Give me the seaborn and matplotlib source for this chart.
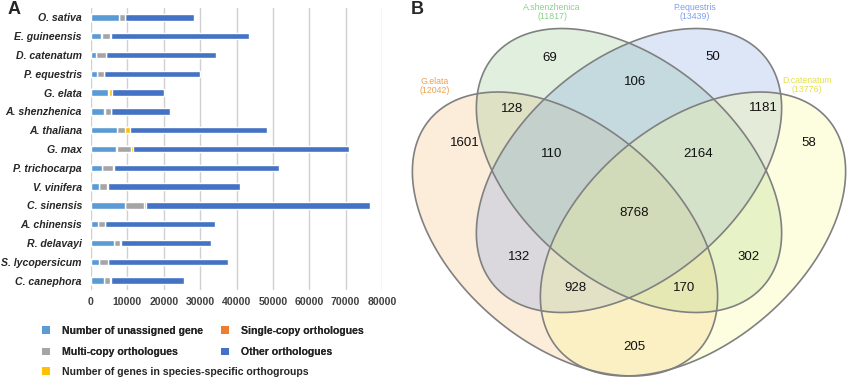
import numpy as np
import pandas as pd
import matplotlib
matplotlib.use("Agg")
import matplotlib.pyplot as plt
from matplotlib.patches import Polygon, Patch
import seaborn as sns

# ---- panel A data (gene counts per species) ----
species = ["O. sativa", "E. guineensis", "D. catenatum", "P. equestris", "G. elata",
           "A. shenzhenica", "A. thaliana", "G. max", "P. trichocarpa", "V. vinifera",
           "C. sinensis", "A. chinensis", "R. delavayi", "S. lycopersicum", "C. canephora"]
unassigned = [7600, 2850, 1300, 1650, 4600, 3700, 7070, 7000, 2940, 2200, 9370, 2000, 6240, 2200, 3670]
single_copy = [40, 40, 40, 40, 40, 40, 40, 40, 40, 40, 40, 40, 40, 40, 40]
multi_copy = [1600, 2290, 2700, 1850, 400, 1700, 2110, 4000, 3120, 2200, 5230, 1860, 1760, 2300, 1560]
species_specific = [150, 360, 100, 100, 700, 150, 1380, 600, 100, 200, 400, 80, 100, 150, 100]
other = [19010, 37860, 30110, 26210, 14460, 16010, 37700, 59360, 45600, 36410, 61560, 30090, 24760, 33050, 20070]
x_ticks = [0, 10000, 20000, 30000, 40000, 50000, 60000, 70000, 80000]

# ---- panel B data (Venn counts) ----
set_names = ["G.elata", "A.shenzhenica", "P.equestris", "D.catenatum"]
set_sizes = [12042, 11817, 13439, 13776]
venn_counts = {"A": 1601, "B": 69, "C": 50, "D": 58,
               "AB": 128, "BC": 106, "CD": 1181, "AC": 132, "BD": 302, "AD": 205,
               "ABC": 110, "BCD": 2164, "ACD": 928, "ABD": 170, "ABCD": 8768}

sns.set_style("white")
plt.rcParams['font.family'] = ['Liberation Sans', 'DejaVu Sans']

fig = plt.figure(figsize=(8.5, 3.83), dpi=100)

# ---------------- Panel A ----------------
ax = fig.add_axes([91 / 850, 1 - 290 / 383, 291 / 850, 282 / 383])
df = pd.DataFrame({"species": species, "unassigned": unassigned, "single": single_copy,
                   "multi": multi_copy, "specific": species_specific, "other": other})
seg_cols = ["unassigned", "single", "multi", "specific", "other"]
seg_colors = {"unassigned": "#5B9BD5", "single": "#ED7D31", "multi": "#A5A5A5",
              "specific": "#FFC000", "other": "#4472C4"}
cum = df[seg_cols].cumsum(axis=1)

# draw longest cumulative first so shorter segments sit on top
for col in reversed(seg_cols):
    sns.barplot(x=cum[col], y=df["species"], orient="h", color=seg_colors[col],
                saturation=1, width=0.34, ax=ax, zorder=3)

ax.set_xlim(0, 80000)
ax.set_xticks(x_ticks)
ax.set_xticklabels([str(t) for t in x_ticks], fontsize=7.6, fontweight="bold", color="#404040")
ax.set_yticklabels(species, fontsize=7.6, fontweight="bold", fontstyle="italic")
ax.set_xlabel("")
ax.set_ylabel("")
ax.xaxis.grid(True, color="#D0D0D0", linewidth=1, zorder=0)
ax.yaxis.grid(False)
for s in ax.spines.values():
    s.set_visible(False)
ax.tick_params(axis="y", length=0, pad=6.5)
ax.tick_params(axis="x", length=0, pad=5)

legend_labels = {"unassigned": "Number of unassigned gene", "single": "Single-copy orthologues",
                 "multi": "Multi-copy orthologues", "other": "Other orthologues",
                 "specific": "Number of genes in species-specific orthogroups"}


def make_handles(keys):
    return [Patch(facecolor=seg_colors[k], edgecolor="none", label=legend_labels[k]) for k in keys]


leg_kw = dict(frameon=False, prop={"weight": "bold", "size": 7.6}, handlelength=0.75,
              handleheight=0.75, handletextpad=1.1, labelspacing=1.05, borderaxespad=0,
              borderpad=0, labelcolor="#262626")
leg1 = fig.legend(handles=make_handles(["unassigned", "multi", "single", "other"]), ncol=2,
                  loc="upper left", bbox_to_anchor=(42 / 850, 1 - 326 / 383),
                  columnspacing=1.75, **leg_kw)
fig.add_artist(leg1)
fig.legend(handles=make_handles(["specific"]), loc="upper left",
           bbox_to_anchor=(42 / 850, 1 - 367 / 383), **leg_kw)

fig.text(8 / 850, 1 - 10 / 383, "A", fontsize=13, fontweight="bold", va="center")

# ---------------- Panel B ----------------
vx = fig.add_axes([400 / 850, 0, 450 / 850, 1])
vx.set_xlim(400, 850)
vx.set_ylim(383, 0)
vx.axis("off")

# ellipse geometry (pixels, y down); picture is slightly stretched horizontally
semi_major, semi_minor, x_stretch = 170.4, 106.2, 1.075
ell_centers = [(565, 234), (629, 170.5), (629, 170.5), (693, 234)]
ell_angles = [45, 45, -45, -45]
ell_fill = ["#F7BB77", "#8FC787", "#7FA3E3", "#FBFB8B"]
t = np.linspace(0, 2 * np.pi, 400)
for (cx, cy), ang, fc in zip(ell_centers, ell_angles, ell_fill):
    th = np.deg2rad(ang)
    u, v = semi_major * np.cos(t), semi_minor * np.sin(t)
    xs = cx + x_stretch * (u * np.cos(th) - v * np.sin(th))
    ys = cy + (u * np.sin(th) + v * np.cos(th))
    pts = np.column_stack([xs, ys])
    vx.add_patch(Polygon(pts, closed=True, facecolor=fc, alpha=0.27, edgecolor="none"))
    vx.add_patch(Polygon(pts, closed=True, facecolor="none", edgecolor="#808080",
                         linewidth=1.2, zorder=3))

count_pos = {"A": (465, 143), "B": (550, 58), "C": (713, 57), "D": (809, 143),
             "AB": (512, 109), "BC": (635, 82), "CD": (763, 108), "AC": (519, 257),
             "BD": (749, 257), "AD": (634, 347), "ABC": (552, 154), "BCD": (698, 154),
             "ACD": (575, 288), "ABD": (684, 288), "ABCD": (634, 213)}
for key, val in venn_counts.items():
    px, py = count_pos[key]
    vx.text(px, py, str(val), ha="center", va="center", fontsize=9.5, color="#111111", zorder=4)

label_pos = [(435, 86), (552, 12), (695, 12), (807, 85)]
label_colors = ["#F0A04B", "#8ED08E", "#7F9FEF", "#E6E04A"]
for name, size, (lx, ly), lc in zip(set_names, set_sizes, label_pos, label_colors):
    vx.text(lx, ly, f"{name}\n({size})", ha="center", va="center", fontsize=6.3,
            color=lc, linespacing=1.05)

fig.text(411 / 850, 1 - 10 / 383, "B", fontsize=13, fontweight="bold", va="center")

fig.savefig("out.png", dpi=100)
